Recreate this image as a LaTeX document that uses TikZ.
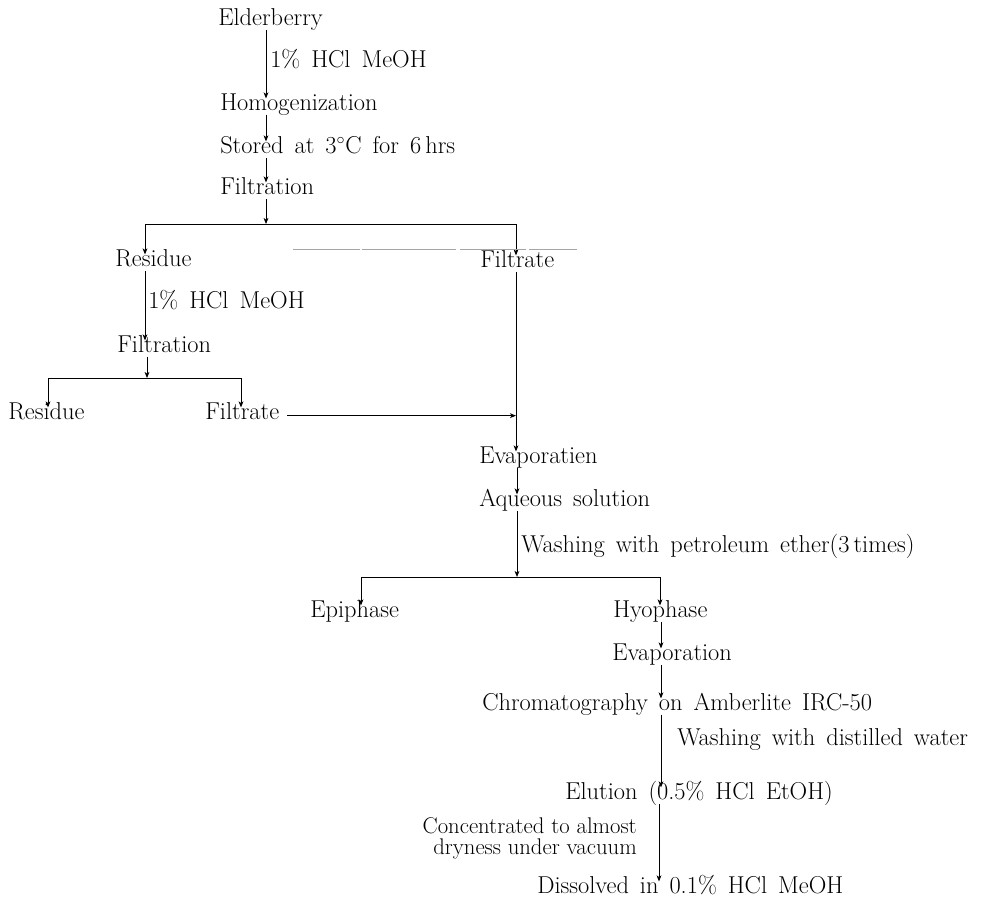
\documentclass[tikz,border=0pt]{standalone}
\usetikzlibrary{arrows.meta}
\newcommand\diagfont{\fontsize{18.3}{21}\selectfont\spaceskip 0.45em plus 0.1em\relax}
\newcommand\notefont{\fontsize{17}{20}\selectfont}
\begin{document}
\begin{tikzpicture}[x=0.75pt,y=-0.75pt,
  every node/.style={font=\diagfont,
    inner xsep=0pt, inner ysep=0.5pt, text height=0.8em, text depth=0.3em},
  stepnode/.style={anchor=base west},
  note/.style={anchor=base west},
  notel/.style={anchor=base east, inner ysep=0pt, font=\notefont},
  flow/.style={line width=0.7pt, -{Stealth[length=4.5pt,width=3.6pt,inset=1.2pt]}},
  bar/.style={line width=0.7pt}]
\useasboundingbox (0,0) rectangle (989,904);

% steps
\node[stepnode] (elder) at (218,25) {Elderberry};
\node[stepnode] (homog) at (220,110) {Homogenization};
\node[stepnode] (store) at (220,153) {Stored at 3$^\circ$C for 6\,hrs};
\node[stepnode] (filt1) at (220,194) {Filtration};
\node[stepnode] (res1) at (115,266) {Residue};
\node[stepnode] (fil1) at (480,267) {Filtrate};
\node[stepnode] (filt2) at (117,352) {Filtration};
\node[stepnode] (res2) at (8,419) {Residue};
\node[stepnode] (fil2) at (205,419) {Filtrate};
\node[stepnode] (evap1) at (479,463) {Evaporatien};
\node[stepnode] (aq) at (479,506) {Aqueous solution};
\node[stepnode] (epi) at (310,617) {Epiphase};
\node[stepnode] (hyo) at (613,617) {Hyophase};
\node[stepnode] (evap2) at (612,660) {Evaporation};
\node[stepnode] (chrom) at (482,710) {Chromatography on Amberlite IRC-50};
\node[stepnode] (elut) at (565,799) {Elution (0.5\% HCl EtOH)};
\node[stepnode] (diss) at (537,893) {Dissolved in 0.1\% HCl MeOH};

% labels
\node[note] (l1) at (270,67) {1\% HCl MeOH};
\node[note] (l2) at (148,308) {1\% HCl MeOH};
\node[note] (l3) at (521,552) {Washing with petroleum ether(3\,times)};
\node[note] (l4) at (677,745) {Washing with distilled water};
\node[notel, text height=0.72em, text depth=0.02em] (l5a) at (637,833) {Concentrated to almost};
\node[notel, text height=0.7em, text depth=0.22em] (l5b) at (637,854) {dryness under vacuum};

% junction coordinates
\coordinate (j1) at (266,224);
\coordinate (j1l) at (145,224);
\coordinate (j1r) at (516,224);
\coordinate (j2) at (147,378);
\coordinate (j2l) at (48,378);
\coordinate (j2r) at (241,378);
\coordinate (j3) at (517,577);
\coordinate (j3l) at (361,577);
\coordinate (j3r) at (660,577);
\coordinate (x4) at (661,0);
\coordinate (x5) at (659,0);

% connectors
\draw[flow] (elder.south -| j1) -- (homog.north -| j1);
\draw[flow] (homog.south -| j1) -- (store.north -| j1);
\draw[flow] (store.south -| j1) -- (filt1.north -| j1);
\draw[flow] (filt1.south -| j1) -- (j1);
\draw[bar] (j1l) -- (j1r);
\draw[flow] (j1l) -- (res1.north -| j1l);
\draw[flow] (j1r) -- (fil1.north -| j1r);
\draw[flow] (res1.south -| j1l) -- (filt2.north -| j1l);
\draw[flow] (filt2.south -| j2) -- (j2);
\draw[bar] (j2l) -- (j2r);
\draw[flow] (j2l) -- (res2.north -| j2l);
\draw[flow] (j2r) -- (fil2.north -| j2r);
\draw[flow] (fil1.south -| j1r) -- (evap1.north -| j1r);
\draw[flow] ([xshift=6pt]fil2.east) -- (fil2.east -| j1r);
\draw[flow] (evap1.south -| j3) -- (aq.north -| j3);
\draw[flow] (aq.south -| j3) -- (j3);
\draw[bar] (j3l) -- (j3r);
\draw[flow] (j3l) -- (epi.north -| j3l);
\draw[flow] (j3r) -- (hyo.north -| j3r);
\draw[flow] (hyo.south -| x4) -- (evap2.north -| x4);
\draw[flow] (evap2.south -| x4) -- (chrom.north -| x4);
\draw[flow] (chrom.south -| x4) -- (elut.north -| x4);
\draw[flow] (elut.south -| x5) -- (diss.north -| x5);

% faint scan line near the upper Filtrate
\draw[gray!70, line width=0.5pt, dash pattern=on 50pt off 2pt on 70pt off 3pt] (293,249) -- (577,249);
\end{tikzpicture}
\end{document}
